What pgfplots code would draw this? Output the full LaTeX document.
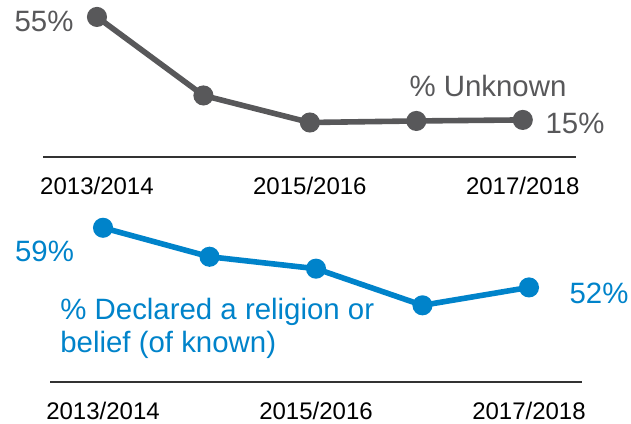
\documentclass[border=0pt]{standalone}
\usepackage{fontspec}
\setmainfont{Liberation Sans}
\usepackage{pgfplots}
\pgfplotsset{compat=1.18}
\definecolor{unkGray}{RGB}{88,88,90}
\definecolor{relBlue}{RGB}{0,131,202}
\definecolor{axisDark}{RGB}{50,50,50}

\pgfplotsset{panel/.style={
  scale only axis, clip=false,
  axis x line=bottom, axis y line=none,
  axis line style={-, axisDark, line width=0.75pt},
  xtick={0,2,4}, xticklabels={2013/2014,2015/2016,2017/2018},
  major tick length=0pt,
  xticklabel style={font=\fontsize{12}{14}\selectfont, anchor=base, yshift=-18.8pt, black},
  anchor=south west,
}}
\newcommand{\lab}{\fontsize{14.7}{17}\selectfont}

\begin{document}
\begin{tikzpicture}
\useasboundingbox (0,0) rectangle (315.5pt,211.5pt);

% top panel: % unknown
\begin{axis}[panel, at={(21.5pt,133pt)}, width=266.5pt, height=73.5pt,
  xmin=-0.507, xmax=4.5, ymin=0.6, ymax=57.7]
\addplot[unkGray, line width=2.8pt, mark=*, mark size=3.6pt] coordinates {
  (0,55) (1,24.5) (2,14) (3,14.6) (4,15)
};
\end{axis}

% bottom panel: % declared a religion or belief
\begin{axis}[panel, at={(25pt,20.5pt)}, width=266pt, height=83.5pt,
  xmin=-0.498, xmax=4.498, ymin=40.9, ymax=60.5]
\addplot[relBlue, line width=2.8pt, mark=*, mark size=3.6pt] coordinates {
  (0,59) (1,55.6) (2,54.2) (3,49.9) (4,52)
};
\end{axis}

\node[unkGray, inner sep=0, font=\lab] at (22pt,201pt) {55\%};
\node[unkGray, inner sep=0, font=\lab] at (244pt,168.5pt) {\% Unknown};
\node[unkGray, inner sep=0, font=\lab] at (287.5pt,150pt) {15\%};
\node[relBlue, inner sep=0, font=\lab] at (22.25pt,86pt) {59\%};
\node[relBlue, inner sep=0, font=\lab] at (299.5pt,65pt) {52\%};
\node[relBlue, inner sep=0, font=\lab, anchor=base west] at (30pt,52pt) {\% Declared a religion or};
\node[relBlue, inner sep=0, font=\lab, anchor=base west] at (30pt,35.5pt) {belief (of known)};
\end{tikzpicture}
\end{document}
